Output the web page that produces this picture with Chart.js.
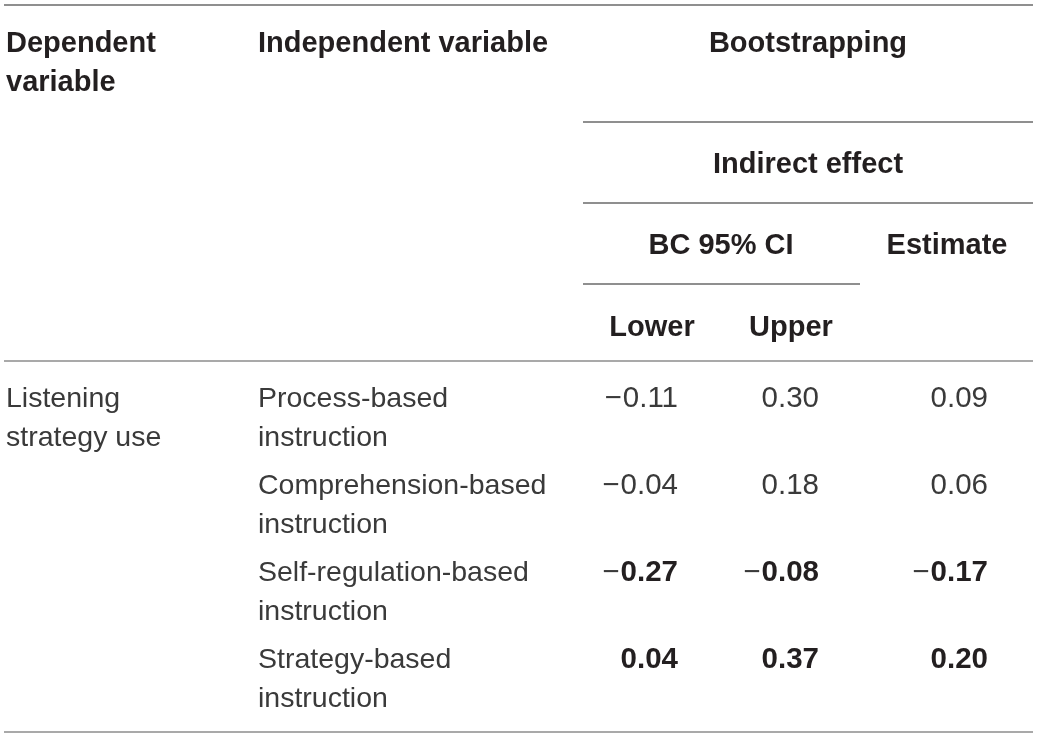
<!DOCTYPE html>
<html>
<head>
<meta charset="utf-8">
<script src="https://cdn.jsdelivr.net/npm/chart.js@4.4.1/dist/chart.umd.min.js"></script>
<style>
  html, body { margin: 0; padding: 0; background: #fff; }
  #wrap { width: 1039px; height: 738px; }
</style>
</head>
<body>
<div id="wrap"><canvas id="tbl" width="1039" height="738"></canvas></div>
<script>
// table content
const dependentVars = ["Listening", "strategy use"];
const independentVars = [
  ["Process-based", "instruction"],
  ["Comprehension-based", "instruction"],
  ["Self-regulation-based", "instruction"],
  ["Strategy-based", "instruction"],
];
const lowerCI = [-0.11, -0.04, -0.27, 0.04];
const upperCI = [0.30, 0.18, -0.08, 0.37];
const estimates = [0.09, 0.06, -0.17, 0.20];
const significant = [false, false, true, true];

// layout (pixel units on hidden scales)
const FONT = "'Liberation Sans', Arial, sans-serif";
const REG = "28.5px " + FONT;
const BOLD = "bold 29px " + FONT;
const NUM = "29.5px " + FONT;
const NUMB = "bold 29.5px " + FONT;
const colText = { dep: 6, indep: 258 };
const colNum = [678, 819, 988];
const rowBase = 407, rowStep = 87, lineGap = 39;

function fmt(v) {
  const s = Math.abs(v).toFixed(2);
  return { minus: v < 0 ? "\u2212" : "", body: s };
}

const numberSets = [lowerCI, upperCI, estimates].map((vals, c) => ({
  label: ["Lower", "Upper", "Estimate"][c],
  values: vals,
  data: vals.map((v, i) => ({ x: colNum[c], y: rowBase + i * rowStep })),
  pointRadius: 0,
  showLine: false,
}));

const tablePlugin = {
  id: "tablePlugin",
  afterDatasetsDraw(chart) {
    const ctx = chart.ctx;
    const X = chart.scales.x, Y = chart.scales.y;
    const px = v => X.getPixelForValue(v);
    const py = v => Y.getPixelForValue(v);
    ctx.save();

    // rules
    function rule(x1, x2, y, color) {
      ctx.beginPath();
      ctx.strokeStyle = color;
      ctx.lineWidth = 2;
      ctx.moveTo(px(x1), py(y));
      ctx.lineTo(px(x2), py(y));
      ctx.stroke();
    }
    rule(4, 1033, 5, "#8f8f8f");
    rule(583, 1033, 122, "#8f8f8f");
    rule(583, 1033, 203, "#8f8f8f");
    rule(583, 860, 284, "#8f8f8f");
    rule(4, 1033, 361, "#a9a9a9");
    rule(4, 1033, 732, "#a9a9a9");

    // headers
    function txt(s, x, y, font, align, color) {
      ctx.font = font;
      ctx.textAlign = align;
      ctx.textBaseline = "alphabetic";
      ctx.fillStyle = color;
      ctx.fillText(s, px(x), py(y));
    }
    const hc = "#231f20";
    txt("Dependent", colText.dep, 52, BOLD, "left", hc);
    txt("variable", colText.dep, 91, BOLD, "left", hc);
    txt("Independent variable", colText.indep, 52, BOLD, "left", hc);
    txt("Bootstrapping", 808, 52, BOLD, "center", hc);
    txt("Indirect effect", 808, 173, BOLD, "center", hc);
    txt("BC 95% CI", 721, 254, BOLD, "center", hc);
    txt("Estimate", 947, 254, BOLD, "center", hc);
    txt("Lower", 652, 336, BOLD, "center", hc);
    txt("Upper", 791, 336, BOLD, "center", hc);

    // body text
    const bc = "#3a3a3a";
    dependentVars.forEach((s, k) => txt(s, colText.dep, rowBase + k * lineGap, REG, "left", bc));
    independentVars.forEach((lines, i) => {
      lines.forEach((s, k) => txt(s, colText.indep, rowBase + i * rowStep + k * lineGap, REG, "left", bc));
    });

    // numbers, placed at dataset points
    chart.data.datasets.forEach((ds, d) => {
      const meta = chart.getDatasetMeta(d);
      meta.data.forEach((el, i) => {
        const f = fmt(ds.values[i]);
        const bold = significant[i];
        ctx.textBaseline = "alphabetic";
        ctx.textAlign = "left";
        ctx.font = bold ? NUMB : NUM;
        const w = ctx.measureText(f.body).width;
        ctx.fillStyle = bold ? hc : bc;
        ctx.fillText(f.body, el.x - w, el.y);
        if (f.minus) {
          ctx.font = NUM;
          const mw = ctx.measureText(f.minus).width;
          ctx.fillStyle = bc;
          ctx.fillText(f.minus, el.x - w - mw - 1, el.y);
        }
      });
    });
    ctx.restore();
  }
};

new Chart(document.getElementById("tbl"), {
  type: "scatter",
  data: { datasets: numberSets },
  options: {
    responsive: false,
    animation: false,
    layout: { padding: 0 },
    plugins: { legend: { display: false }, tooltip: { enabled: false } },
    scales: {
      x: { type: "linear", min: 0, max: 1039, display: false },
      y: { type: "linear", min: 0, max: 738, reverse: true, display: false },
    },
  },
  plugins: [tablePlugin],
});
</script>
</body>
</html>
